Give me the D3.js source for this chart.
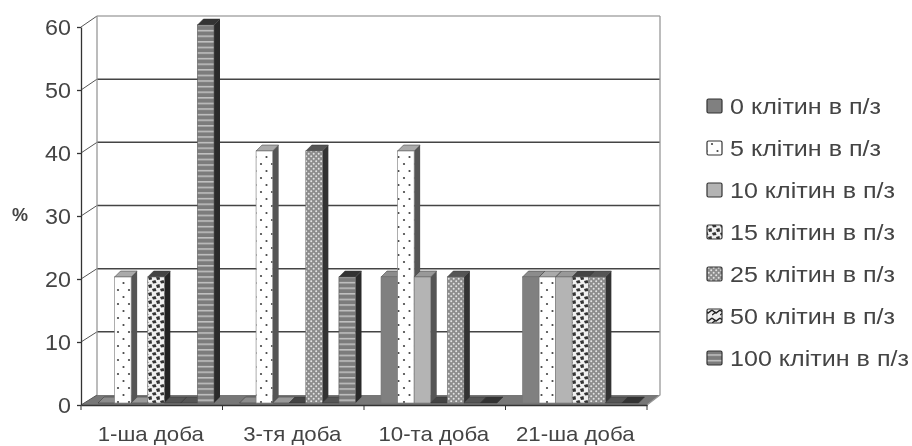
<!DOCTYPE html>
<html>
<head>
<meta charset="utf-8">
<script src="https://cdn.jsdelivr.net/npm/d3@7"></script>
<style>
  html, body { margin: 0; padding: 0; background: #fff; }
  svg { display: block; filter: blur(0.7px); }
  text { font-family: "Liberation Sans", Arial, sans-serif; fill: #444; }
</style>
</head>
<body>
<svg id="chart" width="912" height="446"></svg>
<script>
const categories = ['1-ша доба', '3-тя доба', '10-та доба', '21-ша доба']
const series_names = ['0 клітин в п/з', '5 клітин в п/з', '10 клітин в п/з', '15 клітин в п/з',
                      '25 клітин в п/з', '50 клітин в п/з', '100 клітин в п/з']
const cells_0 = [0, 0, 20, 20]
const cells_5 = [20, 40, 40, 20]
const cells_10 = [0, 0, 20, 20]
const cells_15 = [20, 0, 0, 20]
const cells_25 = [0, 40, 20, 20]
const cells_50 = [0, 0, 0, 0]
const cells_100 = [60, 20, 0, 0]
const series_values = [cells_0, cells_5, cells_10, cells_15, cells_25, cells_50, cells_100]
const y_ticks = [0, 10, 20, 30, 40, 50, 60]

const svg = d3.select('#chart')
const defs = svg.append('defs')

const x = d3.scaleBand().domain(categories).range([81, 647])
const x_inner = d3.scaleBand().domain(d3.range(7)).range([17, 133])
const y_front = d3.scaleLinear().domain([0, 60]).range([405, 27])
const y_back = d3.scaleLinear().domain([0, 60]).range([395, 16])
const legend_y = d3.scalePoint().domain(series_names).range([106, 358])
const DEPTH = 6

function make_pattern(id, w, h, bg, draw) {
  const p = defs.append('pattern').attr('id', id).attr('patternUnits', 'userSpaceOnUse')
                .attr('width', w).attr('height', h)
  p.append('rect').attr('width', w).attr('height', h).attr('fill', bg)
  draw(p)
}
make_pattern('p5', 11, 14, '#fff', p => {
  p.selectAll('circle').data([[2.5, 3], [8, 10]]).join('circle')
   .attr('cx', d => d[0]).attr('cy', d => d[1]).attr('r', 1.1).attr('fill', '#444')
})
make_pattern('p15', 8, 8, '#f0f0f0', p => {
  p.selectAll('path').data(['M0 1L3.5 0L4.5 3L1 3.5Z', 'M4 5L7.5 4L8 7.5L5 8Z']).join('path')
   .attr('d', d => d).attr('fill', '#333')
})
make_pattern('p25', 5, 5, '#8c8c8c', p => {
  p.selectAll('circle').data([[1.2, 1.2], [3.7, 3.7]]).join('circle')
   .attr('cx', d => d[0]).attr('cy', d => d[1]).attr('r', 1).attr('fill', '#e4e4e4')
})
make_pattern('p50', 8, 8, '#eee', p => {
  p.append('path').attr('d', 'M0 2L4 5L8 2M0 7L4 4').attr('stroke', '#222').attr('stroke-width', 1.4).attr('fill', 'none')
})
make_pattern('p100', 4, 5.6, '#7c7c7c', p => {
  p.append('rect').attr('y', 2).attr('width', 4).attr('height', 1.3).attr('fill', '#cfcfcf')
})
const fills = ['#808080', 'url(#p5)', '#b4b4b4', 'url(#p15)', 'url(#p25)', 'url(#p50)', 'url(#p100)']
const top_fills = ['#8c8c8c', '#aaa', '#999', '#444', '#555', '#555', '#333']
const side_fills = ['#444', '#555', '#555', '#222', '#333', '#333', '#2a2a2a']

// the source text is set wide, so stretch it horizontally
function stretch(sel, k) {
  sel.each(function () {
    d3.select(this).attr('textLength', this.getComputedTextLength() * k)
                   .attr('lengthAdjust', 'spacingAndGlyphs')
  })
}

// walls and floor
const x0 = x.range()[0], x1 = x.range()[1]
svg.append('path')
   .attr('d', `M${x0} ${y_front(0)}L${x0 + 16} ${y_back(0)}L${x1 + 13} ${y_back(0)}L${x1} ${y_front(0)}Z`)
   .attr('fill', '#777')
svg.append('g').selectAll('line').data(y_ticks.slice(1)).join('line')
   .attr('x1', x0 + 16).attr('x2', x1 + 13)
   .attr('y1', d => y_back(d)).attr('y2', d => y_back(d))
   .attr('stroke', d => d === 60 ? '#aaa' : '#444').attr('stroke-width', 1.5)
svg.append('g').selectAll('line').data(y_ticks).join('line')
   .attr('x1', x0).attr('x2', x0 + 16)
   .attr('y1', d => y_front(d)).attr('y2', d => y_back(d))
   .attr('stroke', '#555')
svg.append('path')
   .attr('d', `M${x0 + 16} ${y_back(0)}V${y_back(60)}M${x1 + 13} ${y_back(60)}V${y_back(0)}L${x1} ${y_front(0)}`)
   .attr('fill', 'none').attr('stroke', '#999').attr('stroke-width', 1.3)

// bars
const bar_data = []
categories.forEach((c, ci) => series_values.forEach((vals, si) => bar_data.push({ c, si, v: vals[ci] })))
const bw = x_inner.bandwidth()
const bars = svg.append('g').selectAll('g').data(bar_data).join('g')
bars.append('path')
    .attr('d', d => {
      const l = x(d.c) + x_inner(d.si), t = y_front(d.v) - 2, b = y_front(0) - 2
      return `M${l + bw} ${t}L${l + bw + DEPTH} ${t - DEPTH}V${b - DEPTH}L${l + bw} ${b}Z`
    })
    .attr('fill', d => side_fills[d.si])
bars.append('path')
    .attr('d', d => {
      const l = x(d.c) + x_inner(d.si), t = y_front(d.v) - 2
      return `M${l} ${t}L${l + DEPTH} ${t - DEPTH}H${l + bw + DEPTH}L${l + bw} ${t}Z`
    })
    .attr('fill', d => top_fills[d.si]).attr('stroke', '#333').attr('stroke-width', 0.5)
bars.filter(d => d.v > 0).append('rect')
    .attr('x', d => x(d.c) + x_inner(d.si))
    .attr('y', d => y_front(d.v) - 2)
    .attr('width', bw)
    .attr('height', d => y_front(0) - y_front(d.v))
    .attr('fill', d => fills[d.si])
    .attr('stroke', d => d.si === 6 ? '#555' : '#777').attr('stroke-width', 0.6)

// axes
const y_axis = svg.append('g').attr('transform', `translate(${x0},0)`)
  .call(d3.axisLeft(y_front).tickValues(y_ticks).tickSize(4).tickSizeOuter(0).tickPadding(6))
y_axis.selectAll('text').style('font-size', '22px').call(stretch, 1.06)
y_axis.selectAll('line, path').attr('stroke', '#333').attr('stroke-width', 1.3)

const x_axis = svg.append('g').attr('transform', `translate(0,${y_front(0)})`)
  .call(d3.axisBottom(x).tickSize(0).tickSizeOuter(0).tickPadding(21))
x_axis.selectAll('text').attr('dx', -1).style('font-size', '21px').call(stretch, 1.06)
x_axis.select('path').attr('stroke', '#333').attr('stroke-width', 1.3)
x_axis.selectAll('.edge').data(categories.map(c => x(c)).concat([x1])).join('line')
      .attr('class', 'edge').attr('x1', d => d).attr('x2', d => d).attr('y1', 0).attr('y2', 5)
      .attr('stroke', '#333')

svg.append('text').attr('x', 12).attr('y', 221).style('font-size', '18px').style('font-weight', 'bold').text('%')

// legend
const legend = svg.append('g').selectAll('g').data(series_names).join('g')
  .attr('transform', d => `translate(0,${legend_y(d)})`)
legend.append('rect').attr('x', 707).attr('y', -7).attr('width', 15).attr('height', 14)
      .attr('rx', 1.5).attr('fill', (d, i) => fills[i]).attr('stroke', '#333').attr('stroke-width', 1.2)
legend.append('text').attr('x', 730).attr('y', 7.5).style('font-size', '22px').text(d => d)
      .call(stretch, 1.14)
</script>
</body>
</html>
